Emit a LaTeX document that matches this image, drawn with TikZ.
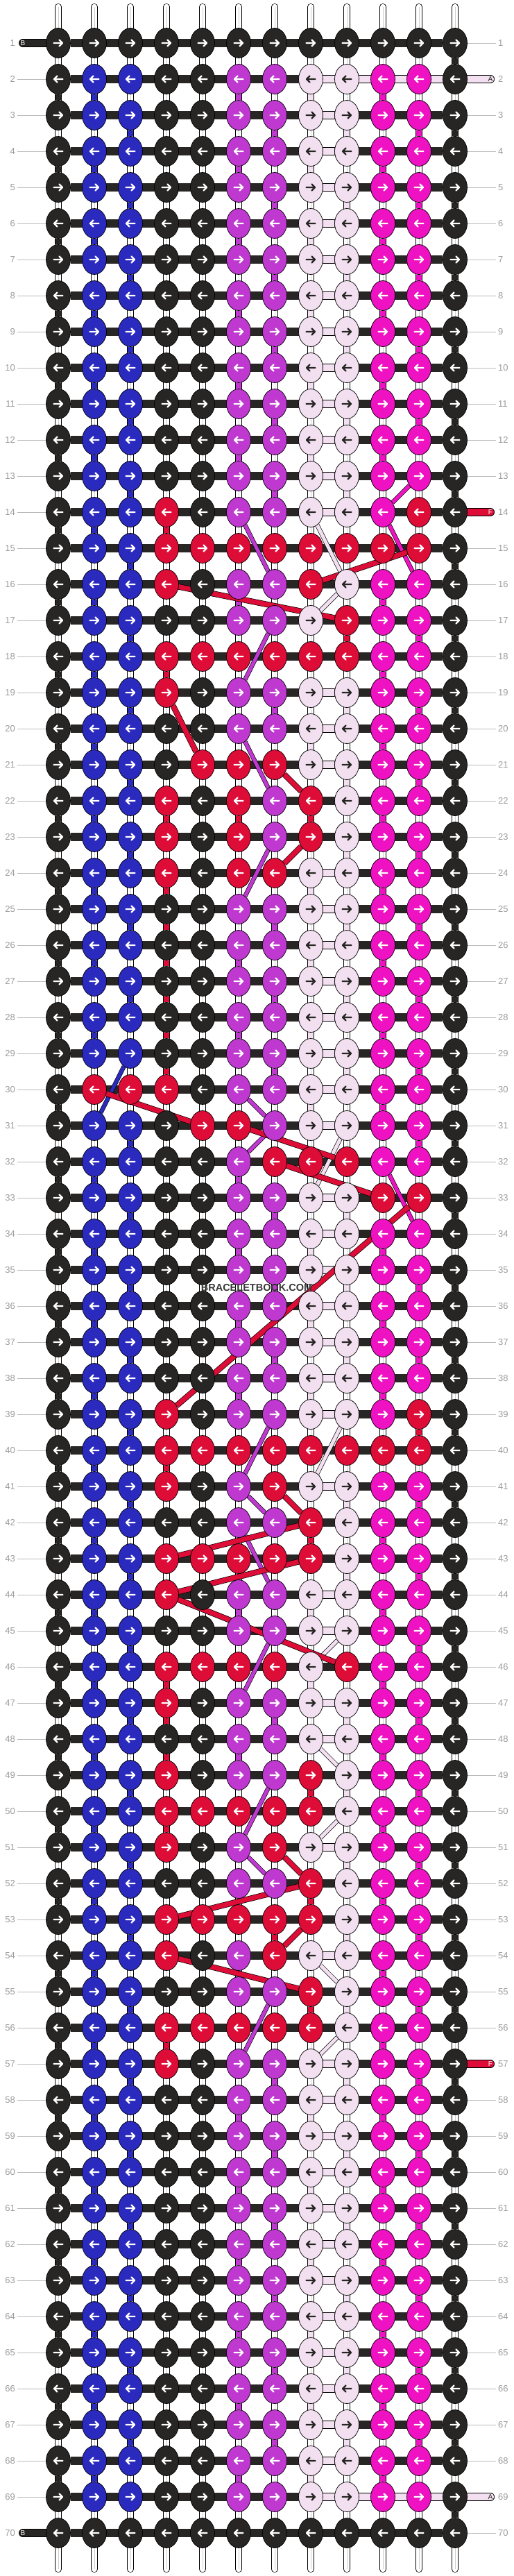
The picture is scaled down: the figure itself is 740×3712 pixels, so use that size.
\documentclass[tikz,border=0pt]{standalone}
\usepackage{fontspec}
\setmainfont{Liberation Sans}
\usetikzlibrary{shapes.geometric}
\pgfdeclarelayer{back}
\pgfsetlayers{back,main}
\definecolor{knK}{HTML}{282624}
\definecolor{knU}{HTML}{2A2ABE}
\definecolor{knP}{HTML}{BF39D1}
\definecolor{knL}{HTML}{F2E0F0}
\definecolor{knM}{HTML}{EE12C2}
\definecolor{knR}{HTML}{DD0D37}
\definecolor{lblgray}{HTML}{9C9C9C}
\definecolor{wmgray}{HTML}{383838}
\def\plainrow{K,U,U,K,K,P,P,L,L,M,M,K}

\begin{document}
\begin{tikzpicture}[x=1pt,y=-1pt,
		knot/.style={ellipse,draw=black,line width=0.7pt,minimum width=35pt,minimum height=43pt,inner sep=0pt},
		arrowmark/.pic={\draw[line width=2.3pt,line cap=round,line join=round,pic actions]
			(-6.5,0) -- (6,0) (1.5,-4.6) -- (6,0) -- (1.5,4.6);}]
		\tikzstyle{tube}=[draw=black,line width=0.7pt,double=white,double distance=8.6pt,line cap=round]
		\tikzstyle{bar}=[draw=knK,line width=12pt]
		\tikzstyle{lpbar}=[draw=black,line width=0.7pt,double=knL,double distance=10.6pt]
		\tikzstyle{gap}=[draw=black,line width=0.7pt,double=#1,double distance=8.6pt]
		\tikzstyle{carry}=[draw=black,line width=0.7pt,double=#1,double distance=5pt]
		\tikzstyle{redcarry}=[draw=black,line width=0.7pt,double=knR,double distance=7pt]
		\tikzstyle{stub}=[draw=black,line width=0.7pt,double=#1,double distance=10.6pt,line cap=round]
		\tikzstyle{lbl}=[text=lblgray,font=\fontsize{13}{13}\selectfont,inner sep=3pt]
		\tikzstyle{lblline}=[draw=lblgray!70,line width=0.8pt]
		\tikzstyle{stubtxt}=[font=\fontsize{10}{10}\selectfont,inner sep=0pt]

		\useasboundingbox (0,0) rectangle (740,3712);

		% knot colours
		\foreach \r in {1,...,70}
			{\foreach \kc [count=\c] in \plainrow {\expandafter\xdef\csname kn\r-\c\endcsname{\kc}}}
		\foreach \r/\pat in {
				1/{K,K,K,K,K,K,K,K,K,K,K,K},	70/{K,K,K,K,K,K,K,K,K,K,K,K},
				14/{K,U,U,R,K,P,P,L,L,M,R,K},	15/{K,U,U,R,R,R,R,R,R,R,R,K},
				16/{K,U,U,R,K,P,P,R,L,M,M,K},	17/{K,U,U,K,K,P,P,L,R,M,M,K},
				18/{K,U,U,R,R,R,R,R,R,M,M,K},	19/{K,U,U,R,K,P,P,L,L,M,M,K},
				21/{K,U,U,K,R,R,R,L,L,M,M,K},	22/{K,U,U,R,K,R,P,R,L,M,M,K},
				23/{K,U,U,R,K,R,P,R,L,M,M,K},	24/{K,U,U,R,K,R,R,L,L,M,M,K},
				30/{K,R,R,R,K,P,P,L,L,M,M,K},	31/{K,U,U,K,R,R,P,L,L,M,M,K},
				32/{K,U,U,K,K,P,R,R,R,M,M,K},	33/{K,U,U,K,K,P,P,L,L,R,R,K},
				39/{K,U,U,R,K,P,P,L,L,M,R,K},	40/{K,U,U,R,R,R,R,R,R,R,R,K},
				41/{K,U,U,R,K,P,R,L,L,M,M,K},	42/{K,U,U,K,K,P,P,R,L,M,M,K},
				43/{K,U,U,R,R,R,R,R,L,M,M,K},	44/{K,U,U,R,K,P,P,L,L,M,M,K},
				46/{K,U,U,R,R,R,R,L,R,M,M,K},	47/{K,U,U,R,K,P,P,L,L,M,M,K},
				49/{K,U,U,R,K,P,P,R,L,M,M,K},	50/{K,U,U,R,R,R,R,R,L,M,M,K},
				51/{K,U,U,R,K,P,R,L,L,M,M,K},	52/{K,U,U,K,K,P,P,R,L,M,M,K},
				53/{K,U,U,R,R,R,R,R,L,M,M,K},	54/{K,U,U,R,K,P,R,L,L,M,M,K},
				55/{K,U,U,K,K,P,P,R,L,M,M,K},	56/{K,U,U,R,R,R,R,R,L,M,M,K},
				57/{K,U,U,R,K,P,P,L,L,M,M,K}}
			{\foreach \kc [count=\c] in \pat {\expandafter\xdef\csname kn\r-\c\endcsname{\kc}}}

		% knots and row numbers
		\foreach \r in {1,...,70}{
			\pgfmathtruncatemacro\ky{62+(\r-1)*52}
			\ifodd\r\relax \def\ang{0}\else \def\ang{180}\fi
			\node[lbl,anchor=east] (ll-\r) at (25,\ky) {\r};
			\node[lbl,anchor=west] (lr-\r) at (715,\ky) {\r};
			\foreach \c in {1,...,12}{
				\pgfmathtruncatemacro\kx{84+(\c-1)*52}
				\edef\kc{\csname kn\r-\c\endcsname}
				\if L\kc \def\arrcol{knK}\else \def\arrcol{white}\fi
				\node[knot,fill=kn\kc] (k-\r-\c) at (\kx,\ky) {};
				\pic[draw=\arrcol,rotate=\ang] at (k-\r-\c) {arrowmark};
			}
		}

		\coordinate (sb-1) at (33,62);		\coordinate (sb-70) at (33,3650);
		\coordinate (se-2) at (707,114);	\coordinate (se-14) at (707,738);
		\coordinate (se-57) at (707,2974);	\coordinate (se-69) at (707,3598);
		\node[stubtxt,text=white] (tb-1) at (sb-1) {B};
		\node[stubtxt,text=white] (tb-70) at (sb-70) {B};
		\node[stubtxt,text=knK] (ta-2) at (se-2) {A};
		\node[stubtxt,text=white] (tf-14) at (se-14) {F};
		\node[stubtxt,text=white] (tf-57) at (se-57) {F};
		\node[stubtxt,text=knK] (ta-69) at (se-69) {A};
		\node[font=\bfseries\fontsize{14.5}{15}\selectfont,text=wmgray,inner sep=1pt] (wm) at (370,1855) {BRACELETBOOK.COM};

		\begin{pgfonlayer}{back}
		\fill[white] (0,0) rectangle (740,3712);
		% base strings
		\foreach \c in {1,...,12}{
			\pgfmathtruncatemacro\kx{84+(\c-1)*52}
			\coordinate (top-\c) at (\kx,10);
			\coordinate (bot-\c) at (\kx,3702);
			\draw[tube] (top-\c) -- (bot-\c);
			\draw[lblgray!50,line width=0.5pt] (top-\c) -- (bot-\c);
		}
		% row threads
		\foreach \r in {1,...,70}{
			\draw[bar] (k-\r-1) -- (k-\r-12);
			\foreach \c [evaluate=\c as \cc using int(\c+1)] in {1,...,11}{
				\edef\ka{\csname kn\r-\c\endcsname}\edef\kb{\csname kn\r-\cc\endcsname}
				\if L\ka\if L\kb \draw[lpbar] (k-\r-\c) -- (k-\r-\cc);\fi\fi
			}
		}
		% threads seen between rows
		\foreach \r in {1,...,69}{
			\pgfmathtruncatemacro\rr{\r+1}
			\foreach \c in {1,...,12}{
				\pgfmathtruncatemacro\rc{mod(\r+\c,2)}
				\edef\ka{\csname kn\r-\c\endcsname}\edef\kb{\csname kn\rr-\c\endcsname}
				\ifnum\c=1 \ifnum\rc=1 \draw[gap=knK] (k-\r-\c) -- (k-\rr-\c);\fi
				\else\ifnum\c=12 \ifnum\rc=1 \draw[gap=knK] (k-\r-\c) -- (k-\rr-\c);\fi
				\else\ifnum\rc=0 \ifx\ka\kb \if K\ka\else \draw[gap=kn\ka] (k-\r-\c) -- (k-\rr-\c);\fi\fi\fi
				\fi\fi
			}
		}
		\foreach \ca/\cb in {24-4/25-4,25-4/26-4,26-4/27-4,27-4/28-4,28-4/29-4,29-4/30-4,
				47-4/48-4,48-4/49-4,49-8/50-8,55-8/56-8}
			\draw[gap=knR] (k-\ca) -- (k-\cb);

		% row numbers and loose ends
		\foreach \r in {2,...,69} \draw[lblline] (ll-\r) -- (k-\r-1);
		\foreach \r in {1,3,4,...,13,15,16,...,56,58,59,...,68,70} \draw[lblline] (k-\r-12) -- (lr-\r);
		\draw[stub=knK] (sb-1) -- (k-1-1);
		\draw[stub=knK] (sb-70) -- (k-70-1);
		\draw[stub=knL] (k-2-8) -- (se-2);
		\draw[stub=knR] (k-14-12) -- (se-14);
		\draw[stub=knR] (k-57-12) -- (se-57);
		\draw[stub=knL] (k-69-8) -- (se-69);

		% carried threads
		\foreach \ca/\cb in {13-11/14-10,14-10/16-11,32-10/34-11}
			\draw[carry=knM] (k-\ca) -- (k-\cb);
		\foreach \ca/\cb in {14-6/16-7,17-7/19-6,20-6/22-7,23-7/25-6,30-6/31-7,31-7/32-6,39-7/41-6,
				41-6/42-7,42-6/44-7,45-7/47-6,49-7/51-6,51-6/52-7,55-7/57-6}
			\draw[carry=knP] (k-\ca) -- (k-\cb);
		\foreach \ca/\cb in {14-8/16-9,16-9/17-8,31-9/33-8,39-9/41-8,45-9/46-8,48-8/49-9,
				50-9/51-8,54-8/55-9,56-9/57-8}
			\draw[carry=knL] (k-\ca) -- (k-\cb);
		\draw[carry=knU] (k-29-3) -- (k-31-2);
		\foreach \ca/\cb in {15-11/16-8,16-4/17-9,19-4/21-5,21-7/22-8,23-8/24-7,30-2/31-5,31-6/32-9,
				32-7/33-10,33-11/39-4,41-7/42-8,42-8/43-4,43-8/44-4,44-4/46-9,51-7/52-8,
				52-8/53-4,53-8/54-7,54-4/55-8}
			\draw[redcarry] (k-\ca) -- (k-\cb);
		\end{pgfonlayer}
\end{tikzpicture}
\end{document}
